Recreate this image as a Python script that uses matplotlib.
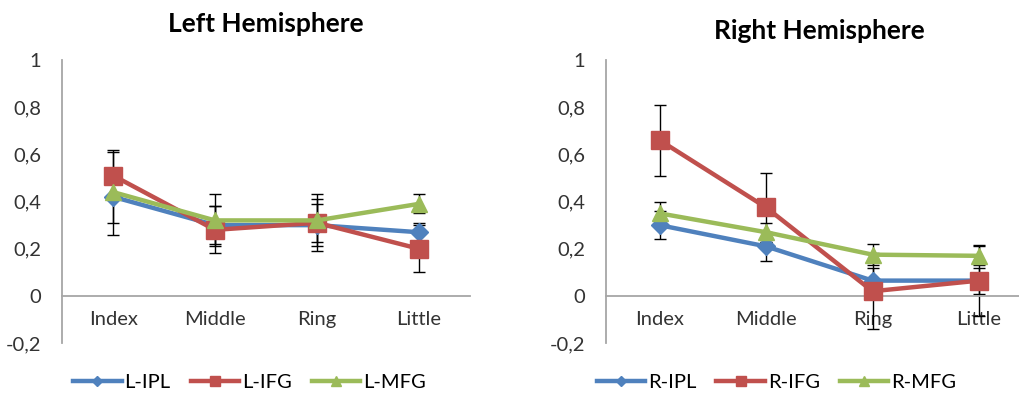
import matplotlib.pyplot as plt
from matplotlib.ticker import FuncFormatter

plt.rcParams['font.family'] = ['Lato', 'DejaVu Sans']

fingers = ['Index', 'Middle', 'Ring', 'Little']

# left hemisphere means and error
l_ipl = [0.42, 0.30, 0.30, 0.27]
l_ifg = [0.51, 0.28, 0.31, 0.20]
l_mfg = [0.44, 0.32, 0.32, 0.39]
l_ipl_err = [0.11, 0.08, 0.09, 0.04]
l_ifg_err = [0.10, 0.10, 0.12, 0.10]
l_mfg_err = [0.18, 0.11, 0.09, 0.04]

# right hemisphere means and error
r_ipl = [0.30, 0.21, 0.065, 0.065]
r_ifg = [0.66, 0.375, 0.02, 0.065]
r_mfg = [0.35, 0.27, 0.175, 0.17]
r_ipl_err = [0.06, 0.06, 0.055, 0.055]
r_ifg_err = [0.15, 0.145, 0.16, 0.15]
r_mfg_err = [0.05, 0.04, 0.045, 0.04]

BLUE = '#4F81BD'
RED = '#C0504D'
GREEN = '#9BBB59'
GRAY = '#A6A6A6'


def comma(v, pos):
    s = ('%.1f' % v).rstrip('0').rstrip('.')
    if s == '-0':
        s = '0'
    return s.replace('.', ',')


def draw_panel(ax, title, series, names, leg_x, title_pad):
    x = list(range(len(fingers)))
    styles = [(BLUE, 'D', 9), (RED, 's', 13), (GREEN, '^', 12)]
    handles = []
    for (vals, err), name, (col, mk, ms) in zip(series, names, styles):
        ax.errorbar(x, vals, yerr=err, fmt='none', ecolor='black',
                    elinewidth=1, capsize=4, capthick=1, zorder=2)
        h, = ax.plot(x, vals, color=col, lw=3.2, marker=mk, ms=ms,
                     label=name, zorder=3)
        handles.append(h)
    ax.set_xlim(-0.5, 3.5)
    ax.set_ylim(-0.2, 1.0)
    ax.set_yticks([-0.2, 0, 0.2, 0.4, 0.6, 0.8, 1.0])
    ax.yaxis.set_major_formatter(FuncFormatter(comma))
    ax.set_xticks(x)
    ax.set_xticklabels(fingers)
    for s in ['top', 'right']:
        ax.spines[s].set_visible(False)
    ax.spines['bottom'].set_position(('data', 0))
    ax.spines['bottom'].set_color(GRAY)
    ax.spines['left'].set_color(GRAY)
    ax.spines['bottom'].set_linewidth(1.3)
    ax.spines['left'].set_linewidth(1.3)
    ax.tick_params(axis='both', length=0, labelsize=14.5, colors='#333333')
    ax.tick_params(axis='x', pad=11)
    ax.tick_params(axis='y', pad=15)
    ax.set_title(title, fontsize=19, fontweight='bold', pad=title_pad)
    ax.figure.legend(handles=handles, loc='center', ncol=3, frameon=False,
                     bbox_to_anchor=(leg_x, 0.03), fontsize=14.5,
                     markerscale=0.55, handlelength=2.4, handletextpad=0.15,
                     columnspacing=1.0)


fig = plt.figure(figsize=(10.19, 3.94), dpi=100)
ax1 = fig.add_axes([0.061, 0.129, 0.400, 0.719])
ax2 = fig.add_axes([0.595, 0.129, 0.418, 0.719])

draw_panel(ax1, 'Left Hemisphere',
           [(l_ipl, l_ipl_err), (l_ifg, l_ifg_err), (l_mfg, l_mfg_err)],
           ['L-IPL', 'L-IFG', 'L-MFG'], 0.245, 20)
draw_panel(ax2, 'Right Hemisphere',
           [(r_ipl, r_ipl_err), (r_ifg, r_ifg_err), (r_mfg, r_mfg_err)],
           ['R-IPL', 'R-IFG', 'R-MFG'], 0.762, 15)

fig.savefig('out.png', dpi=100)
